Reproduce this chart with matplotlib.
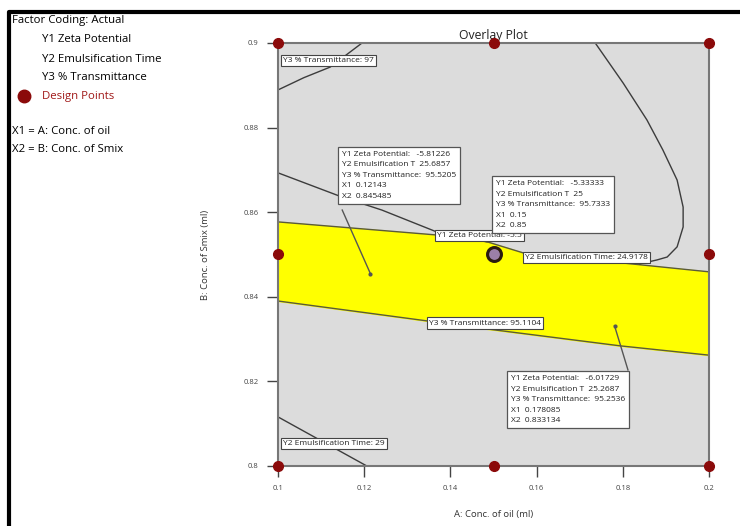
import numpy as np
import matplotlib.pyplot as plt

plt.rcParams['font.family'] = ['Open Sans', 'DejaVu Sans']

# design points of the factorial plan
design_x = [0.1, 0.15, 0.2, 0.1, 0.2, 0.1, 0.15, 0.2]
design_y = [0.8, 0.8, 0.8, 0.85, 0.85, 0.9, 0.9, 0.9]
center_pt = (0.15, 0.85)

# yellow sweet spot edges
band_top_x = [0.1, 0.1369, 0.1485, 0.1568, 0.2]
band_top_y = [0.8577, 0.8546, 0.8530, 0.8504, 0.8459]
band_bot_x = [0.1, 0.15, 0.1794, 0.2]
band_bot_y = [0.8390, 0.8322, 0.8284, 0.8262]

# contour traces
y3_97_x = [0.1, 0.1060, 0.1121, 0.1195]
y3_97_y = [0.8889, 0.8918, 0.8943, 0.9]
y2_249_x = [0.1736, 0.1801, 0.1856, 0.1893, 0.1926, 0.1940, 0.1940,
            0.1926, 0.1903, 0.1879, 0.1840]
y2_249_y = [0.9, 0.8905, 0.8818, 0.8747, 0.8676, 0.8612, 0.8565,
            0.8518, 0.8494, 0.8487, 0.8478]
y1_zeta_x = [0.1, 0.1148, 0.1241, 0.1369, 0.1485]
y1_zeta_y = [0.8693, 0.8636, 0.8605, 0.8553, 0.8530]
y2_29_x = [0.1, 0.1206]
y2_29_y = [0.8116, 0.8]

# flagged points and their callouts
flags = [
    dict(pt=(0.12143, 0.845485), box=(0.1144, 0.8752), tail=(0.1149, 0.8605),
         lines=["Y1 Zeta Potential:   -5.81226", "Y2 Emulsification T  25.6857",
                "Y3 % Transmittance:  95.5205", "X1  0.12143", "X2  0.845485"]),
    dict(pt=(0.15, 0.85), box=(0.1501, 0.8683), tail=None,
         lines=["Y1 Zeta Potential:   -5.33333", "Y2 Emulsification T  25",
                "Y3 % Transmittance:  95.7333", "X1  0.15", "X2  0.85"]),
    dict(pt=(0.178085, 0.833134), box=(0.1536, 0.8222), tail=(0.1812, 0.8227),
         lines=["Y1 Zeta Potential:   -6.01729", "Y2 Emulsification T  25.2687",
                "Y3 % Transmittance:  95.2536", "X1  0.178085", "X2  0.833134"]),
]

contour_labels = [
    ("Y3 % Transmittance: 97", 0.1012, 0.8959),
    ("Y2 Emulsification Time: 29", 0.1012, 0.8053),
    ("Y3 % Transmittance: 95.1104", 0.1350, 0.8338),
    ("Y2 Emulsification Time: 24.9178", 0.1573, 0.8493),
    ("Y1 Zeta Potential: -5.5", 0.1369, 0.8545),
]

fig = plt.figure(figsize=(7.4, 5.26), dpi=100)
ax = fig.add_axes([0.3757, 0.1141, 0.5824, 0.8042])
ax.set_facecolor('#dcdcdc')

tx = np.linspace(0.1, 0.2, 50)
top = np.interp(tx, band_top_x, band_top_y)
bot = np.interp(tx, band_bot_x, band_bot_y)
ax.fill_between(tx, bot, top, color='#ffff00', zorder=1)
ax.plot(band_top_x, band_top_y, color='#5a5a3a', lw=1.0, zorder=2)
ax.plot(band_bot_x, band_bot_y, color='#5a5a3a', lw=1.0, zorder=2)

for cx, cy in [(y3_97_x, y3_97_y), (y2_249_x, y2_249_y),
               (y1_zeta_x, y1_zeta_y), (y2_29_x, y2_29_y)]:
    ax.plot(cx, cy, color='#3c3c3c', lw=1.0, zorder=2)

box_style = dict(boxstyle='square,pad=0.25', fc='white', ec='#444444', lw=0.8)
for txt, lx, ly in contour_labels:
    ax.text(lx, ly, txt, fontsize=6.0, va='center', ha='left', color='#222222',
            bbox=box_style, zorder=4)

for f in flags:
    if f['tail'] is not None:
        ax.plot([f['tail'][0], f['pt'][0]], [f['tail'][1], f['pt'][1]],
                color='#555555', lw=1.0, zorder=3)
        ax.plot(*f['pt'], 'o', ms=2, color='#555555', zorder=3)
    ax.text(f['box'][0] + 0.0004, f['box'][1] - 0.0007, "\n".join(f['lines']),
            fontsize=6.0, va='top', ha='left', color='#222222', linespacing=1.7,
            bbox=dict(boxstyle='square,pad=0.45', fc='white', ec='#555555', lw=0.9),
            zorder=6)

ax.plot(design_x, design_y, 'o', ms=7, color='#8b0a0a', clip_on=False, zorder=7)
ax.plot(*center_pt, 'o', ms=10, mfc='#9b7fa8', mec='#2a1a10', mew=2.2, zorder=7)

ax.set_xlim(0.1, 0.2)
ax.set_ylim(0.8, 0.9)
ax.set_xticks([0.1, 0.12, 0.14, 0.16, 0.18, 0.2])
ax.set_xticklabels(['0.1', '0.12', '0.14', '0.16', '0.18', '0.2'])
ax.set_yticks([0.8, 0.82, 0.84, 0.86, 0.88, 0.9])
ax.set_yticklabels(['0.8', '0.82', '0.84', '0.86', '0.88', '0.9'])
ax.tick_params(labelsize=5.5, colors='#444444', length=8, width=1, pad=6)
for s in ax.spines.values():
    s.set_color('#777777')
    s.set_linewidth(1.5)

ax.set_title('Overlay Plot', fontsize=8.8, color='#222222', pad=3)
ax.set_xlabel('A: Conc. of oil (ml)', fontsize=6.8, color='#333333', labelpad=13)
ax.set_ylabel('B: Conc. of Smix (ml)', fontsize=6.8, color='#333333', labelpad=24)

# legend panel on the left
fs = 8.2
fig.text(12 / 740, 1 - 20 / 526, 'Factor Coding: Actual', fontsize=fs, va='center')
for i, name in enumerate(['Y1 Zeta Potential', 'Y2 Emulsification Time',
                          'Y3 % Transmittance']):
    fig.text(42 / 740, 1 - (40 + 19 * i) / 526, name, fontsize=fs, va='center')
fig.lines.append(plt.Line2D([24 / 740], [1 - 96 / 526], marker='o', ms=9,
                            color='#8b0a0a', transform=fig.transFigure))
fig.text(42 / 740, 1 - 96 / 526, 'Design Points', fontsize=fs, va='center',
         color='#a01818')
fig.text(12 / 740, 1 - 131 / 526, 'X1 = A: Conc. of oil', fontsize=fs, va='center')
fig.text(12 / 740, 1 - 150 / 526, 'X2 = B: Conc. of Smix', fontsize=fs, va='center')

# outer frame
fig.lines.append(plt.Line2D([9 / 740, 9 / 740, 1], [0, 1 - 12 / 526, 1 - 12 / 526],
                            color='black', lw=3, transform=fig.transFigure))

fig.savefig('out.png', dpi=100)
